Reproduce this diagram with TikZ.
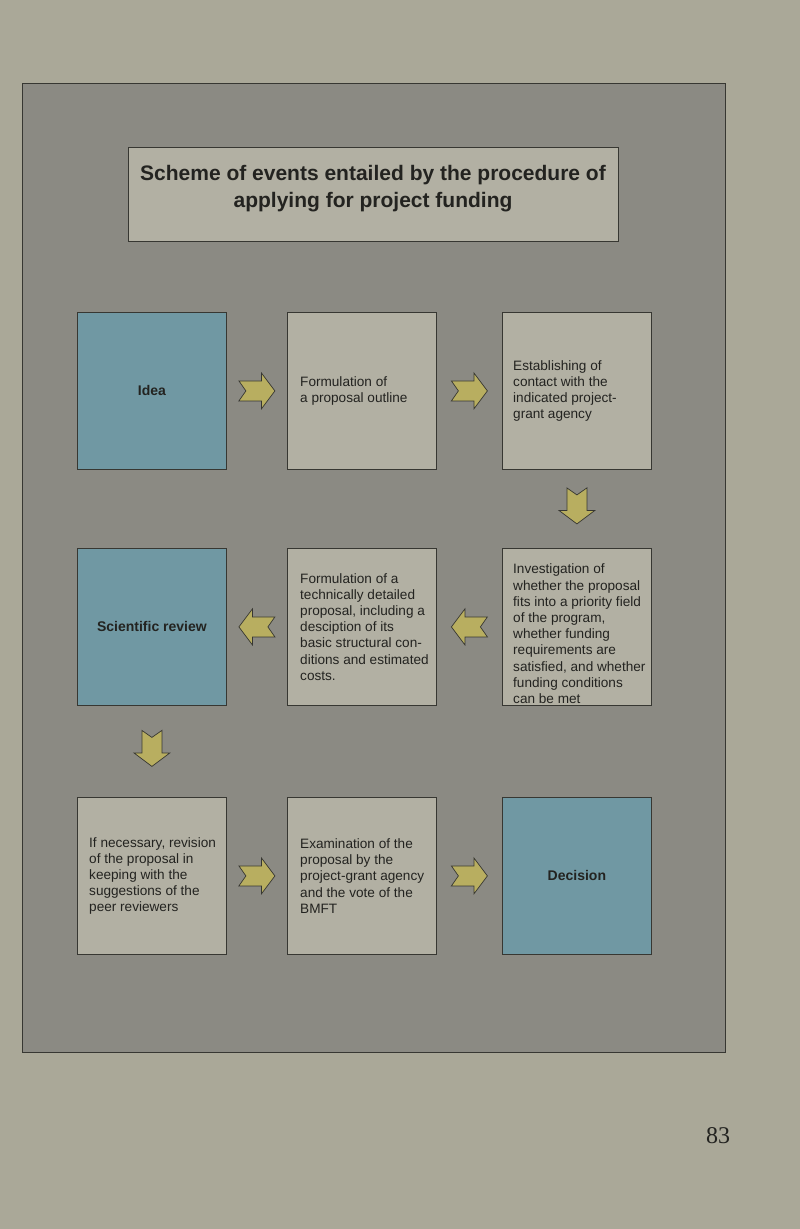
\documentclass[tikz,border=0pt]{standalone}
\usepackage{fontspec}
\setmainfont{Liberation Sans}
\newfontfamily\pagenumfont{Liberation Serif}
\usetikzlibrary{calc}
\definecolor{pagebg}{RGB}{170,168,152}
\definecolor{panelbg}{RGB}{139,138,131}
\definecolor{boxbg}{RGB}{178,176,163}
\definecolor{bluebg}{RGB}{112,152,163}
\definecolor{arrowfill}{RGB}{184,174,96}
\definecolor{edge}{RGB}{55,55,50}
\definecolor{ink}{RGB}{35,35,32}
\tikzset{
  boxshape/.style={draw=edge, line width=0.8pt, fill=boxbg, minimum width=149pt,
    minimum height=157pt, inner sep=0pt, anchor=north west},
  bluebox/.style={boxshape, fill=bluebg, align=center, text=ink,
    font=\bfseries\fontsize{14}{17}\selectfont},
  boxtext/.style={anchor=west, align=left, inner sep=0pt, text=ink,
    font=\fontsize{13.6}{16.2}\selectfont},
  blockarrow/.pic={
    \draw[draw=edge, line width=0.7pt, fill=arrowfill, line join=miter]
      (-18,-10) -- (-11,0) -- (-18,10) -- (4.5,10) -- (4.5,18) -- (18,0)
      -- (4.5,-18) -- (4.5,-10) -- cycle;
  }
}
\begin{document}
\begin{tikzpicture}[x=1pt,y=-1pt]
\useasboundingbox (0,0) rectangle (800,1229);
\fill[pagebg] (0,0) rectangle (800,1229);
\draw[draw=edge, line width=0.9pt, fill=panelbg] (22,83) rectangle (725,1052);

% title
\node[draw=edge, line width=0.8pt, fill=boxbg, minimum width=490pt, minimum height=94pt,
  anchor=north west] (titlebox) at (128,147) {};
\node[align=center, text=ink, font=\bfseries\fontsize{21}{27}\selectfont] (titletext) at (373,189)
  {Scheme of events entailed by the procedure of\\applying for project funding};

% row 1
\node[bluebox] (idea) at (77,312) {Idea};
\node[boxshape] (outline) at (287,312) {};
\node[boxtext] (outlinetext) at ($(outline.west)+(13,0)$) {Formulation of\\a proposal outline};
\node[boxshape] (contact) at (502,312) {};
\node[boxtext] (contacttext) at ($(contact.west)+(11,0)$) {Establishing of\\contact with the\\indicated project-\\grant agency};

% row 2
\node[bluebox] (review) at (77,548) {Scientific review};
\node[boxshape] (detailed) at (287,548) {};
\node[boxtext] (detailedtext) at ($(detailed.west)+(13,0)$) {Formulation of a\\technically detailed\\proposal, including a\\desciption of its\\basic structural con-\\ditions and estimated\\costs.};
\node[boxshape] (investigation) at (502,548) {};
\node[boxtext] (investigationtext) at ($(investigation.west)+(11,7)$) {Investigation of\\whether the proposal\\fits into a priority field\\of the program,\\whether funding\\requirements are\\satisfied, and whether\\funding conditions\\can be met};

% row 3
\node[boxshape] (revision) at (77,797) {};
\node[boxtext] (revisiontext) at ($(revision.west)+(12,0)$) {If necessary, revision\\of the proposal in\\keeping with the\\suggestions of the\\peer reviewers};
\node[boxshape] (examination) at (287,797) {};
\node[boxtext] (examinationtext) at ($(examination.west)+(13,0)$) {Examination of the\\proposal by the\\project-grant agency\\and the vote of the\\BMFT};
\node[bluebox] (decision) at (502,797) {Decision};

% arrows
\pic at ($(idea.east)!0.5!(outline.west)$) {blockarrow};
\pic at ($(outline.east)!0.5!(contact.west)$) {blockarrow};
\pic[rotate=-90] at ($(contact.south)!0.5!(investigation.north)+(0,-3)$) {blockarrow};
\pic[rotate=180] at ($(investigation.west)!0.5!(detailed.east)$) {blockarrow};
\pic[rotate=180] at ($(detailed.west)!0.5!(review.east)$) {blockarrow};
\pic[rotate=-90] at ($(review.south)!0.5!(revision.north)+(0,-3)$) {blockarrow};
\pic at ($(revision.east)!0.5!(examination.west)$) {blockarrow};
\pic at ($(examination.east)!0.5!(decision.west)$) {blockarrow};

% page number
\node[text=ink, font=\pagenumfont\fontsize{24}{24}\selectfont] (pagenum) at (718,1136) {83};
\end{tikzpicture}
\end{document}
